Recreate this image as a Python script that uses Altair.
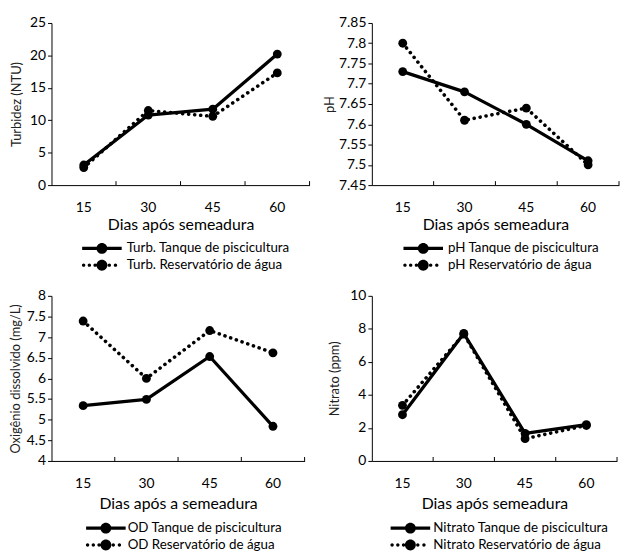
import altair as alt
import pandas as pd

FONT = "Lato"

DAYS = ["15", "30", "45", "60"]

turb_names = ["Turb. Tanque de piscicultura", "Turb. Reservatório de água"]
turb_tanque = [3.1, 10.8, 11.7, 20.2]
turb_reserv = [2.7, 11.5, 10.6, 17.3]

ph_names = ["pH Tanque de piscicultura", "pH Reservatório de água"]
ph_tanque = [7.73, 7.68, 7.60, 7.51]
ph_reserv = [7.80, 7.61, 7.64, 7.50]

od_names = ["OD Tanque de piscicultura", "OD Reservatório de água"]
od_tanque = [5.34, 5.49, 6.53, 4.84]
od_reserv = [7.39, 6.00, 7.16, 6.62]

nit_names = ["Nitrato Tanque de piscicultura", "Nitrato Reservatório de água"]
nit_tanque = [2.8, 7.72, 1.67, 2.2]
nit_reserv = [3.37, 7.68, 1.35, 2.15]

turb_ticks = [0, 5, 10, 15, 20, 25]
ph_ticks = [7.45, 7.5, 7.55, 7.6, 7.65, 7.7, 7.75, 7.8, 7.85]
od_ticks = [4, 4.5, 5, 5.5, 6, 6.5, 7, 7.5, 8]
nit_ticks = [0, 2, 4, 6, 8, 10]

# legend symbols (SVG paths, 10 px per unit at symbolSize 400): line + marker, dots + marker
SOLID = ("M-2,-0.165L2,-0.165L2,0.165L-2,0.165Z "
         "M0.55,0A0.55,0.55,0,1,1,-0.55,0A0.55,0.55,0,1,1,0.55,0Z")


def dot(cx, r):
    return (f"M{cx + r},0A{r},{r},0,1,1,{cx - r},0A{r},{r},0,1,1,{cx + r},0Z ")


DOTS = "".join(dot(c, 0.17) for c in [-1.85, -1.27, -0.69, 0.75, 1.37]) + dot(0, 0.55)


def make_df(names, a, b):
    rows = []
    for d, v in zip(DAYS, a):
        rows.append({"dia": d, "valor": v, "serie": names[0]})
    for d, v in zip(DAYS, b):
        rows.append({"dia": d, "valor": v, "serie": names[1]})
    return pd.DataFrame(rows)


def panel(names, a, b, ytitle, xtitle, ydomain, yticks, w, h, lx, ly, ytp,
          lo=15, xtp=2):
    df = make_df(names, a, b)
    xenc = alt.X("dia:O", sort=DAYS,
                 scale=alt.Scale(type="band", paddingInner=0, paddingOuter=0),
                 axis=alt.Axis(title=xtitle, labelAngle=0, ticks=False, tickSize=0,
                               labelPadding=16, titlePadding=xtp, labelFontSize=14,
                               titleFontSize=16, domainColor="black", domainWidth=1,
                               labelColor="black", titleColor="black",
                               titleFontWeight="normal", grid=False))
    yenc = alt.Y("valor:Q",
                 scale=alt.Scale(domain=ydomain, nice=False, zero=False),
                 axis=alt.Axis(title=ytitle, values=yticks, format="~r", grid=False,
                               tickSize=4, labelPadding=2, titlePadding=ytp,
                               labelFontSize=14, titleFontSize=13,
                               titleFontWeight="normal", domainColor="black",
                               tickColor="black", labelColor="black",
                               titleColor="#222222", labelOverlap=False,
                               labelFlush=False))
    base = alt.Chart(df).encode(x=xenc, y=yenc)
    solid = base.transform_filter(alt.datum.serie == names[0]).mark_line(
        color="black", strokeWidth=3.3, strokeJoin="round")
    dotted = base.transform_filter(alt.datum.serie == names[1]).mark_line(
        color="black", strokeWidth=3.6, strokeDash=[0.1, 6], strokeCap="round")
    pts = base.mark_point(filled=True, size=80, color="black", opacity=1)
    tks = alt.Chart(pd.DataFrame({"dia": DAYS})).mark_rule(
        color="black", strokeWidth=1).encode(
        x=alt.X("dia:O", sort=DAYS, bandPosition=1),
        y=alt.value(h), y2=alt.value(h - 4))
    leg = alt.Chart(df).transform_filter("datum.valor < -1e9").mark_point(
        filled=True, color="black", size=400, opacity=1, strokeWidth=0).encode(
        shape=alt.Shape("serie:N",
                        scale=alt.Scale(domain=names, range=[SOLID, DOTS]),
                        legend=alt.Legend(title=None, orient="none", legendX=lx,
                                          legendY=ly, direction="vertical",
                                          symbolSize=400, symbolStrokeWidth=0,
                                          symbolFillColor="black", symbolOpacity=1,
                                          symbolOffset=10,
                                          labelFontSize=13.5, labelOffset=lo,
                                          labelLimit=400, rowPadding=0,
                                          labelFont=FONT, labelColor="black")))
    return alt.layer(solid, dotted, pts, tks, leg).properties(width=w, height=h)


tl = panel(turb_names, turb_tanque, turb_reserv, "Turbidez (NTU)",
           "Dias após semeadura", [0, 25], turb_ticks, 261, 164, 31, 218, 6)
tr = panel(ph_names, ph_tanque, ph_reserv, "pH",
           "Dias após semeadura", [7.45, 7.85], ph_ticks, 250, 164, 32, 218, 2)
bl = panel(od_names, od_tanque, od_reserv, "Oxigênio dissolvido (mg/L)",
           "Dias após a semeadura", [4, 8], od_ticks, 256, 167, 35, 225, 4, 12, 5)
br = panel(nit_names, nit_tanque, nit_reserv, "Nitrato (ppm)",
           "Dias após semeadura", [0, 10], nit_ticks, 248, 167, 19, 225, 8, 13, 5)

top = alt.hconcat(tl, tr, spacing=12).resolve_scale(
    shape="independent").resolve_legend(shape="independent")
bottom = alt.hconcat(bl, br, spacing=23).resolve_scale(
    shape="independent").resolve_legend(shape="independent")

chart = alt.vconcat(top, bottom, spacing=15).resolve_scale(
    shape="independent").resolve_legend(shape="independent").properties(
    padding={"left": 0, "top": 4, "right": 0, "bottom": 0}
).configure_view(stroke="transparent").configure_axis(
    labelFont=FONT, titleFont=FONT
).configure_legend(labelFont=FONT)

chart.save("out.html", embed_options={"renderer": "svg", "actions": False})
